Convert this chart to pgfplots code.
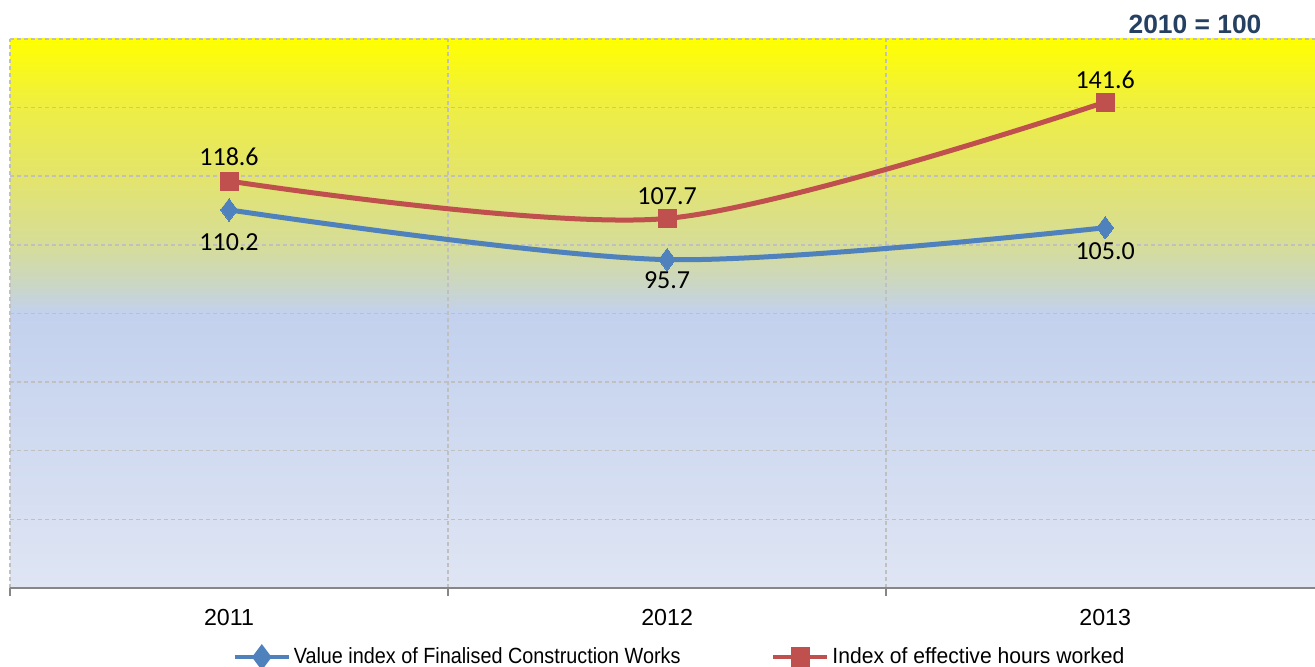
\documentclass[border=0pt]{standalone}
\usepackage{pgfplots}
\pgfplotsset{compat=1.18}
\usepackage{graphicx}
\usepackage{fontspec}
\setmainfont{Liberation Sans}
\newfontfamily\calibri{Carlito}
\definecolor{bgA}{HTML}{DFE5F3}
\definecolor{bgB}{HTML}{C3D1EE}
\definecolor{bgC}{HTML}{CAD6C6}
\definecolor{bgD}{HTML}{D6DD98}
\definecolor{bgE}{HTML}{E3E46C}
\definecolor{bgF}{HTML}{EEEE45}
\definecolor{bgG}{HTML}{FFFF00}
\definecolor{blueline}{HTML}{4F81BD}
\definecolor{redline}{HTML}{C0504D}
\definecolor{gridgray}{HTML}{C0C0C0}
\definecolor{axisgray}{HTML}{868686}
\definecolor{titleblue}{HTML}{254061}
\pgfdeclareverticalshading{bgshade}{100bp}{color(0bp)=(bgA); color(25bp)=(bgA); color(50bp)=(bgB); color(52.5bp)=(bgC); color(56.25bp)=(bgD); color(62.5bp)=(bgE); color(68.75bp)=(bgF); color(75bp)=(bgG); color(100bp)=(bgG)}
\begin{document}
\begin{tikzpicture}
\useasboundingbox (0,0) rectangle (657.5pt,333.5pt);
\begin{axis}[
  at={(5pt,39.5pt)}, anchor=south west,
  scale only axis, width=652.5pt, height=274.5pt,
  xmin=-0.5, xmax=2.479, ymin=0, ymax=160,
  axis background/.style={shading=bgshade},
  axis line style={draw=none},
  xtick={0,1,2}, xticklabels={2011,2012,2013},
  minor xtick={-0.5,0.5,1.5,2.5},
  xminorgrids,
  ytick={0,20,...,160}, yticklabels={},
  ymajorgrids,
  grid style={gridgray, line width=0.75pt, dash pattern=on 2pt off 1.5pt},
  minor grid style={gridgray, line width=0.75pt, dash pattern=on 2pt off 1.5pt},
  major tick length=0pt,
  minor tick length=4pt,
  tick align=outside,
  xtick pos=bottom, ytick pos=left,
  minor x tick style={axisgray, line width=0.75pt},
  y tick style={draw=none},
  xticklabel style={font=\fontsize{11.6}{13}\selectfont, yshift=-7pt},
  /pgf/number format/assume math mode=true,
  clip=false,
  legend style={at={(0.5135,-0.126)}, anchor=center, draw=none, fill=none,
    font=\fontsize{11}{12}\selectfont, legend columns=2,
    nodes={inner xsep=1.5pt},
    /tikz/every even column/.style={column sep=44pt},
    inner sep=0pt},
  legend image code/.code={\draw[#1,mark=none,line width=2pt] (0pt,0pt) -- (27pt,0pt);
     \draw[#1,mark options={scale=0.8}] plot coordinates {(13.5pt,0pt)};},
  after end axis/.code={\draw[axisgray,line width=1pt] (rel axis cs:0,0) -- (rel axis cs:1,0);},
]
\addplot[blueline, line width=2.5pt, smooth, mark=diamond*, mark size=5.6pt,
  mark options={fill=blueline, draw=blueline, line width=0pt},
  visualization depends on={value \thisrow{s} \as \labshift},
  nodes near coords={\pgfmathprintnumber[fixed,fixed zerofill,precision=1]{\pgfplotspointmeta}},
  every node near coord/.append style={anchor=center, yshift=\labshift pt, text=black,
     font=\calibri\fontsize{13}{15}\selectfont}]
  table[x=x, y=y] {
x y s
0 110.2 -16
1 95.7 -10.5
2 105.0 -11.5
};
\addlegendentry{\scalebox{0.9}[1]{Value index of Finalised Construction Works}}
\addplot[redline, line width=2.5pt, smooth, mark=square*, mark size=4.5pt,
  mark options={fill=redline, draw=redline, line width=0pt},
  visualization depends on={value \thisrow{s} \as \labshift},
  nodes near coords={\pgfmathprintnumber[fixed,fixed zerofill,precision=1]{\pgfplotspointmeta}},
  every node near coord/.append style={anchor=center, yshift=\labshift pt, text=black,
     font=\calibri\fontsize{13}{15}\selectfont}]
  table[x=x, y=y] {
x y s
0 118.6 12
1 107.7 11
2 141.6 11
};
\addlegendentry{\scalebox{0.96}[1]{Index of effective hours worked}}
\end{axis}
\node[font=\bfseries\fontsize{13.2}{15}\selectfont, text=titleblue] at (597.5pt,321.5pt) {2010 = 100};
\end{tikzpicture}
\end{document}
